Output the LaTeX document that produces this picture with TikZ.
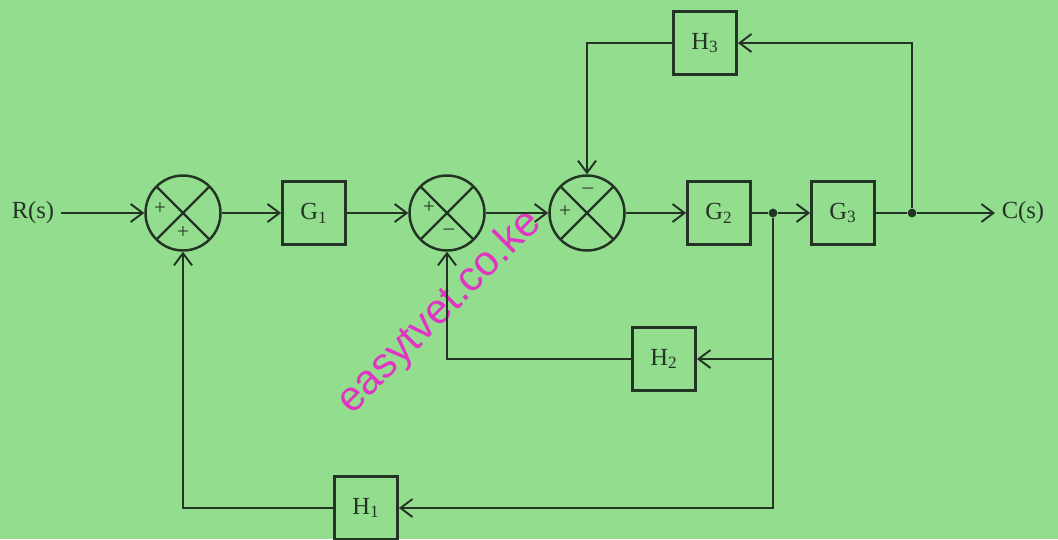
\documentclass[tikz,border=0pt]{standalone}
\usepackage{fontspec}
\setmainfont{Liberation Serif}
\newfontfamily\wmfont{Liberation Sans}
\usetikzlibrary{arrows.meta}
\definecolor{paper}{RGB}{146,221,142}
\definecolor{ink}{RGB}{36,52,36}
\definecolor{wmark}{RGB}{226,52,196}
\tikzset{
  block/.style={draw=ink,line width=1.6pt,minimum size=1.26cm,inner sep=0pt,
    text=ink,font=\fontsize{14}{16}\selectfont},
  sumpt/.style={draw=ink,line width=1.4pt,circle,minimum size=1.5cm,inner sep=0pt,
    path picture={\draw[ink,line width=1.3pt]
      (path picture bounding box.north west) -- (path picture bounding box.south east)
      (path picture bounding box.north east) -- (path picture bounding box.south west);}},
  sgn/.style={text=ink,font=\fontsize{12}{13}\selectfont},
  tap/.style={circle,fill=ink,inner sep=0pt,minimum size=5pt},
  lbl/.style={text=ink,font=\fontsize{14}{16}\selectfont}
}
\begin{document}
\begin{tikzpicture}[x=0.02cm,y=-0.02cm,>={Straight Barb[length=2.4mm,width=3.6mm]},
    line width=1.1pt,draw=ink]
  \fill[paper] (0,0) rectangle (1058,539);
  \useasboundingbox (0,0) rectangle (1058,539);
  % watermark
  \node[rotate=45,text=wmark,font=\wmfont\fontsize{24}{26}\selectfont] (wm) at (440,312) {easytvet.co.ke};
  % forward path
  \node[lbl] (R) at (33,213) {R(s)};
  \node[sumpt] (s1) at (183,213) {};
  \node[block] (g1) at (314,213) {G\textsubscript{1}};
  \node[sumpt] (s2) at (447,213) {};
  \node[sumpt] (s3) at (587,213) {};
  \node[block] (g2) at (719,213) {G\textsubscript{2}};
  \node[block] (g3) at (843,213) {G\textsubscript{3}};
  \node[lbl] (C) at (1023,213) {C(s)};
  \node[tap] (j1) at (773,213) {};
  \node[tap] (j2) at (912,213) {};
  % feedback blocks
  \node[block] (h3) at (705,43) {H\textsubscript{3}};
  \node[block] (h2) at (664,359) {H\textsubscript{2}};
  \node[block] (h1) at (366,508) {H\textsubscript{1}};
  % signs
  \node[sgn] (p1a) at (160,209) {+};
  \node[sgn] (p1b) at (183,233) {+};
  \node[sgn] (p2a) at (429,208) {+};
  \node[sgn] (m2b) at (449,232) {–};
  \node[sgn] (p3a) at (565,212) {+};
  \node[sgn] (m3b) at (588,191) {–};
  % connectors
  \draw[->] (R) -- (s1);
  \draw[->] (s1) -- (g1);
  \draw[->] (g1) -- (s2);
  \draw[->] (s2) -- (s3);
  \draw[->] (s3) -- (g2);
  \draw (g2) -- (j1);
  \draw[->] (j1) -- (g3);
  \draw (g3) -- (j2);
  \draw[->] (j2) -- (C);
  \draw[->] (j2) |- (h3);
  \draw[->] (h3) -| (s3);
  \draw[->] (j1) |- (h2);
  \draw[->] (h2) -| (s2);
  \draw[->] (j1) |- (h1);
  \draw[->] (h1) -| (s1);
\end{tikzpicture}
\end{document}
